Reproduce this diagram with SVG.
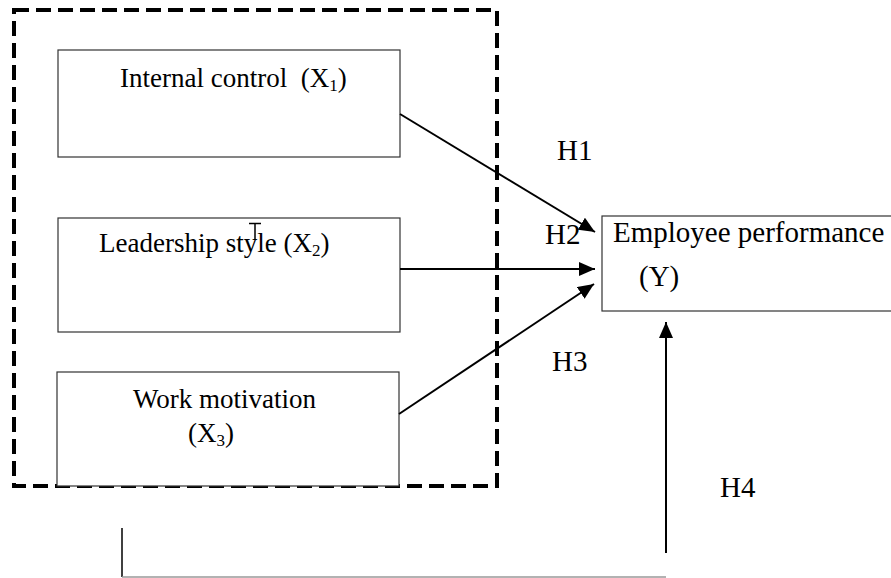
<svg xmlns="http://www.w3.org/2000/svg" width="891" height="578" viewBox="0 0 891 578">
<style>
.box{fill:#fff;stroke:#333;stroke-width:1.2}
.t{font-family:"Liberation Serif","Times New Roman",serif;font-size:27px;fill:#000}
.big{font-size:29px}
.sub{font-size:17px}
.conn{stroke:#000;stroke-width:2;fill:none}
</style>
<defs>
<marker id="ah" markerUnits="userSpaceOnUse" markerWidth="17" markerHeight="14" refX="16" refY="7" orient="auto">
<path d="M0,0 L16,7 L0,14 z" fill="#000"/>
</marker>
</defs>
<rect width="891" height="578" fill="#fff"/>
<g id="group-frame">
<rect x="14" y="10" width="483" height="476" fill="none" stroke="#000" stroke-width="4" stroke-dasharray="15,7"/>
</g>
<g id="node-x1">
<rect class="box" x="58" y="50" width="342" height="107"/>
<text class="t" x="120" y="87">Internal control &#160;(X<tspan class="sub" dy="4">1</tspan><tspan dy="-4">)</tspan></text>
</g>
<g id="node-x2">
<rect class="box" x="58" y="218" width="342" height="114"/>
<text class="t" x="99" y="252">Leadership style (X<tspan class="sub" dy="4">2</tspan><tspan dy="-4">)</tspan></text>
<path d="M249,223.5 H261 M255,223.5 V240" stroke="#000" stroke-width="1.5" fill="none"/>
</g>
<g id="node-x3">
<rect class="box" x="57" y="372" width="342" height="114"/>
<text class="t" x="133" y="408">Work motivation</text>
<text class="t" x="188" y="442">(X<tspan class="sub" dy="4">3</tspan><tspan dy="-4">)</tspan></text>
</g>
<g id="node-y">
<rect class="box" x="602" y="216" width="292" height="95"/>
<text class="t big" x="613" y="242">Employee performance</text>
<text class="t big" x="639" y="286">(Y)</text>
</g>
<g id="connectors">
<line class="conn" x1="400" y1="114" x2="595" y2="232" marker-end="url(#ah)"/>
<line class="conn" x1="400" y1="269" x2="595" y2="269" marker-end="url(#ah)"/>
<line class="conn" x1="399" y1="414" x2="594" y2="284" marker-end="url(#ah)"/>
<line class="conn" x1="666" y1="553" x2="666" y2="322" marker-end="url(#ah)"/>
<line x1="122" y1="528" x2="122" y2="577" stroke="#000" stroke-width="1.5"/>
<line x1="122" y1="577" x2="666" y2="577" stroke="#999" stroke-width="1.5"/>
</g>
<g id="labels">
<text class="t big" x="557" y="160">H1</text>
<text class="t big" x="545" y="244">H2</text>
<text class="t big" x="552" y="371">H3</text>
<text class="t big" x="720" y="497">H4</text>
</g>
</svg>
